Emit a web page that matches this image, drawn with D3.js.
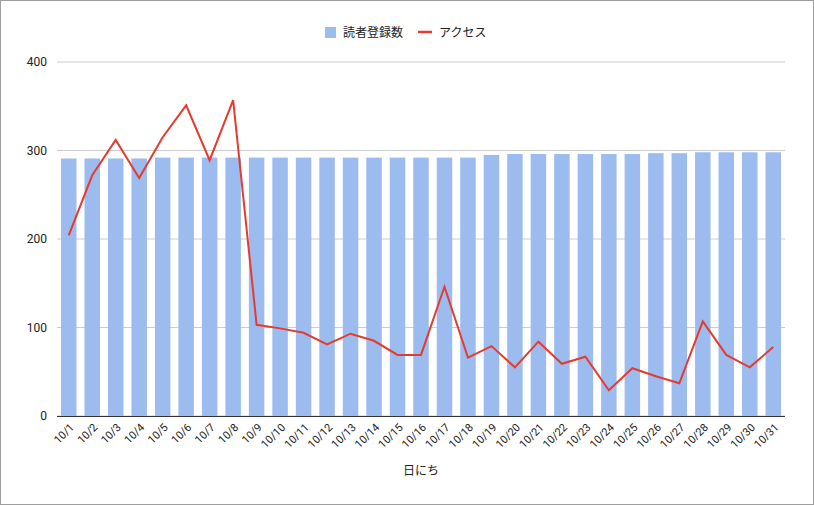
<!DOCTYPE html>
<html><head><meta charset="utf-8">
<script src="https://cdn.jsdelivr.net/npm/d3@7"></script>
<style>body{margin:0;background:#fff;font-family:Roboto,"Noto Sans CJK JP",sans-serif}</style>
</head><body><svg id="c" width="814" height="505"></svg>
<script>
const dates = d3.range(1,32).map(d=>"10/"+d);
const readers = [291,291,291,291,292,292,292,292,292,292,292,292,292,292,292,292,292,292,295,296,296,296,296,296,296,297,297,298,298,298,298];
const access = [204,272,312,269,315,351,289,357,103,99,94,81,93,85,69,69,146,66,79,55,84,59,67,29,54,45,37,107,69,55,78];
const yTicks = [0,100,200,300,400];
const F = 'Roboto,"Noto Sans CJK JP",sans-serif';
const svg = d3.select("#c");
svg.append("rect").attr("x",0.5).attr("y",0.5).attr("width",813).attr("height",504).attr("fill","#fff").attr("stroke","#9e9e9e");
const m={l:57,r:785,t:62,b:416};
const x=d3.scaleBand().domain(dates).range([m.l,m.r]).paddingInner(0.34).paddingOuter(0.17);
const y=d3.scaleLinear().domain([0,400]).range([m.b,m.t]);
svg.append("g").selectAll("line").data(yTicks).join("line").attr("x1",m.l).attr("x2",m.r)
 .attr("y1",d=>y(d)).attr("y2",d=>y(d)).attr("stroke","#ccc");
svg.append("g").selectAll("text").data(yTicks).join("text").attr("x",47).attr("y",d=>y(d)+4)
 .attr("text-anchor","end").attr("font-size",12).attr("font-family",F).attr("fill","#222").text(d=>d);
svg.append("g").selectAll("rect").data(readers).join("rect").attr("x",(d,i)=>x(dates[i])).attr("width",x.bandwidth())
 .attr("y",d=>y(d)).attr("height",d=>y(0)-y(d)).attr("fill","#9cbcf0");
svg.append("line").attr("x1",m.l).attr("x2",m.r).attr("y1",m.b+0.5).attr("y2",m.b+0.5).attr("stroke","#333");
const line=d3.line().x((d,i)=>x(dates[i])+x.bandwidth()/2).y(d=>y(d));
svg.append("path").attr("d",line(access)).attr("fill","none").attr("stroke","#e53b2e").attr("stroke-width",2);
svg.append("g").selectAll("text").data(dates).join("text")
 .attr("transform",d=>`translate(${x(d)+x.bandwidth()/2+6},${m.b+12}) rotate(-45)`)
 .attr("text-anchor","end").attr("font-size",11).attr("font-family",F).attr("fill","#222").text(d=>d);
svg.append("text").attr("x",421).attr("y",475).attr("text-anchor","middle").attr("font-size",12).attr("font-family",F).attr("fill","#222").text("日にち");
const lg=svg.append("g").attr("font-family",F).attr("font-size",12).attr("fill","#222");
lg.append("rect").attr("x",325).attr("y",27).attr("width",11).attr("height",11).attr("fill","#9cbcf0");
lg.append("text").attr("x",343).attr("y",37).text("読者登録数");
lg.append("line").attr("x1",418).attr("x2",432).attr("y1",32).attr("y2",32).attr("stroke","#e53b2e").attr("stroke-width",2.5);
lg.append("text").attr("x",439).attr("y",37).text("アクセス");
</script></body></html>
